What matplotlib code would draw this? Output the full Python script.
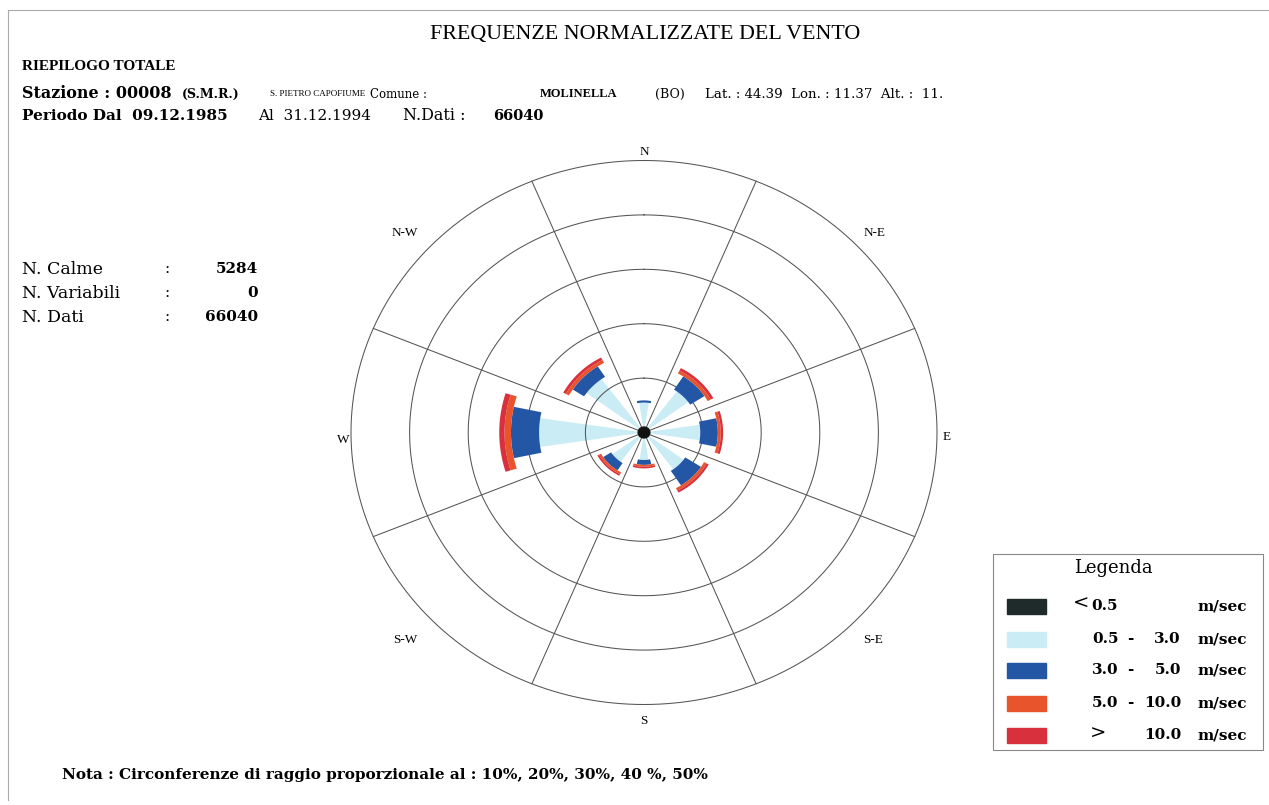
import numpy as np
import matplotlib
matplotlib.use("Agg")
import matplotlib.pyplot as plt
from matplotlib.patches import Rectangle, Ellipse

# direzioni (gradi da nord, senso orario)
directions = ["N", "N-E", "E", "S-E", "S", "S-W", "W", "N-W"]
angles = [0, 45, 90, 135, 180, 225, 270, 315]

# frequenze normalizzate (%) per classe di velocita'
freq_05_3 = [5.5, 9.4, 9.6, 8.4, 5.05, 6.7, 17.9, 12.2]
freq_3_5 = [0.4, 2.9, 3.0, 3.2, 0.9, 1.6, 4.8, 2.3]
freq_5_10 = [0.0, 0.6, 0.5, 0.5, 0.35, 0.4, 1.1, 0.6]
freq_10 = [0.0, 0.5, 0.4, 0.4, 0.3, 0.3, 0.9, 0.5]

rings = [10, 20, 30, 40, 50]

legend_lo = ["<", "0.5", "3.0", "5.0", ">"]
legend_hi = ["0.5", "3.0", "5.0", "10.0", "10.0"]
class_colors = ["#1f2b2b", "#c9ecf5", "#2456a6", "#e8542c", "#d8303c"]

stat_names = ["N. Calme", "N. Variabili", "N. Dati"]
stat_values = [5284, 0, 66040]

W, H = 1269, 805
fig = plt.figure(figsize=(W / 100, H / 100), dpi=100)

# asse "pixel" per testi e legenda
bg = fig.add_axes([0, 0, 1, 1])
bg.set_xlim(0, W)
bg.set_ylim(H, 0)
bg.axis("off")

# asse della rosa (unita' = %), leggermente schiacciato come l'originale
cx, cy = 644, 432.5
sx, sy = 5.86, 5.44
ax = fig.add_axes([0, 0, 1, 1])
ax.set_xlim(-cx / sx, (W - cx) / sx)
ax.set_ylim(-(H - cy) / sy, cy / sy)
ax.axis("off")
ax.patch.set_alpha(0)

grid_col = "#555555"
t = np.radians(np.linspace(0, 360, 721))
for r in rings:
    ax.plot(r * np.sin(t), r * np.cos(t), color=grid_col, lw=0.75, zorder=2)
for a in [22.5, 67.5, 112.5, 157.5]:
    ar = np.radians(a)
    ax.plot([-50 * np.sin(ar), 50 * np.sin(ar)], [-50 * np.cos(ar), 50 * np.cos(ar)],
            color=grid_col, lw=0.75, zorder=2)


def sector(ang, r0, r1, half, color, z):
    tt = np.radians(np.linspace(ang - half, ang + half, 40))
    xs = np.concatenate([r1 * np.sin(tt), r0 * np.sin(tt[::-1])])
    ys = np.concatenate([r1 * np.cos(tt), r0 * np.cos(tt[::-1])])
    ax.fill(xs, ys, color=color, lw=0, zorder=z)


for i, ang in enumerate(angles):
    r0 = 0
    r1 = freq_05_3[i]
    sector(ang, r0, r1, 8.5, class_colors[1], 1)
    r0, r1 = r1, r1 + freq_3_5[i]
    sector(ang, r0, r1, 12, class_colors[2], 3)
    if freq_5_10[i] > 0:
        r0, r1 = r1, r1 + freq_5_10[i]
        sector(ang, r0, r1, 17, class_colors[3], 3)
    if freq_10[i] > 0:
        r0, r1 = r1, r1 + freq_10[i]
        sector(ang, r0, r1, 17, class_colors[4], 3)

ax.add_patch(Ellipse((0, 0), 2.0, 2.0, color="#111", zorder=4))

# etichette direzioni
serif = "Liberation Serif"
dserif = "DejaVu Serif"
lab_pos = [(644, 152), (875, 233), (947, 437), (873, 640),
           (644, 721), (405, 640), (343, 440), (405, 233)]
for name, (x, y) in zip(directions, lab_pos):
    bg.text(x, y, name, ha="center", va="center", fontsize=9.5, family=serif)

# cornice
bg.plot([8, W], [10, 10], color="#aaa", lw=0.8)
bg.plot([8, 8], [10, 800], color="#aaa", lw=0.8)

# intestazione
bg.text(645, 34, "FREQUENZE NORMALIZZATE DEL VENTO", ha="center", va="center",
        fontsize=15.8, family=serif)
bg.text(22, 67, "RIEPILOGO TOTALE", va="center", fontsize=11, family=serif, weight="bold")
bg.text(22, 93, "Stazione : 00008", va="center", fontsize=11.5, family=dserif, weight="bold")
bg.text(182, 94, "(S.M.R.)", va="center", fontsize=9, family=dserif, weight="bold")
bg.text(270, 94, "S. PIETRO CAPOFIUME", va="center", fontsize=6.5, family=serif)
bg.text(370, 94, "Comune :", va="center", fontsize=8.5, family=dserif)
bg.text(540, 94, "MOLINELLA", va="center", fontsize=9, family=serif, weight="bold")
bg.text(655, 94, "(BO)", va="center", fontsize=9, family=dserif)
bg.text(705, 94, "Lat. : 44.39  Lon. : 11.37  Alt. :  11.", va="center", fontsize=9.6,
        family=dserif)
bg.text(22, 116, "Periodo Dal  09.12.1985", va="center", fontsize=11, family=dserif,
        weight="bold")
bg.text(258, 116, "Al  31.12.1994", va="center", fontsize=11, family=dserif)
bg.text(403, 116, "N.Dati :", va="center", fontsize=11.5, family=dserif)
bg.text(493, 116, f"{stat_values[2]}", va="center", fontsize=10.5, family=dserif,
        weight="bold")

# riepilogo a sinistra
for k, (name, val) in enumerate(zip(stat_names, stat_values)):
    y = 269 + 24 * k
    bg.text(22, y, name, va="center", fontsize=12.5, family=dserif)
    bg.text(167, y, ":", va="center", ha="center", fontsize=11, family=dserif)
    bg.text(258, y, f"{val}", va="center", ha="right", fontsize=11,
            family=dserif, weight="bold")

# legenda
bg.add_patch(Rectangle((993, 554), 270, 196, fill=False, ec="#888", lw=0.8))
bg.text(1113, 568, "Legenda", ha="center", va="center", fontsize=13, family=dserif)
ys = [606, 639, 670, 703, 735]
lab = dict(va="center", fontsize=11, family=dserif, weight="bold")
for k, y in enumerate(ys):
    bg.add_patch(Rectangle((1007, y - 7), 39, 15, color=class_colors[k]))
    bg.text(1247, y, "m/sec", ha="right", **lab)
    if k == 0:
        bg.text(1073, y - 2, legend_lo[k], va="center", fontsize=14, family=dserif)
        bg.text(1091, y, legend_hi[k], **lab)
    elif k == 4:
        bg.text(1090, y - 1, legend_lo[k], va="center", fontsize=14, family=dserif)
        bg.text(1181, y, legend_hi[k], ha="right", **lab)
    else:
        bg.text(1092, y, legend_lo[k], **lab)
        bg.text(1130, y, "-", ha="center", **lab)
        bg.text(1181, y, legend_hi[k], ha="right", **lab)

# nota
bg.text(62, 775, "Nota : Circonferenze di raggio proporzionale al : 10%, 20%, 30%, 40 %, 50%",
        va="center", fontsize=11, family=dserif, weight="bold")

fig.savefig("out.png", dpi=100)
